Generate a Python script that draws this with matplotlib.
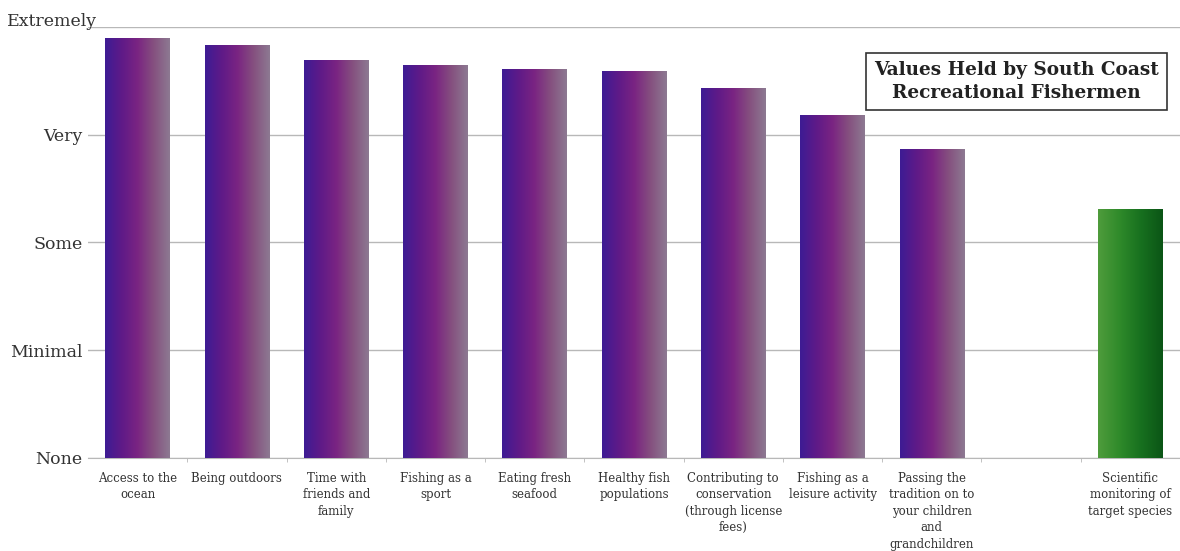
import numpy as np
import matplotlib
matplotlib.use("Agg")
import matplotlib.pyplot as plt
from matplotlib.colors import LinearSegmentedColormap
from matplotlib.transforms import ScaledTranslation

# ---------- data ----------
categories = [
    "Access to the\nocean",
    "Being outdoors",
    "Time with\nfriends and\nfamily",
    "Fishing as a\nsport",
    "Eating fresh\nseafood",
    "Healthy fish\npopulations",
    "Contributing to\nconservation\n(through license\nfees)",
    "Fishing as a\nleisure activity",
    "Passing the\ntradition on to\nyour children\nand\ngrandchildren",
    "",
    "Scientific\nmonitoring of\ntarget species",
]
values = [3.90, 3.83, 3.69, 3.65, 3.61, 3.59, 3.43, 3.18, 2.87, 0, 2.31]
highlight = [False] * 9 + [False, True]
level_labels = ["None", "Minimal", "Some", "Very", "Extremely"]
title = "Values Held by South Coast\nRecreational Fishermen"

# ---------- style ----------
purple_cmap = LinearSegmentedColormap.from_list(
    "purple", ["#3d1c94", "#5e1a88", "#7a2482", "#85507f", "#8d7a92"])
green_cmap = LinearSegmentedColormap.from_list(
    "green", ["#4f9c3c", "#2f8a2a", "#17701f", "#0b5516"])

plt.rcParams["font.family"] = ["DejaVu Serif"]

fig = plt.figure(figsize=(11.8, 5.51), dpi=100)
ax = fig.add_axes([0.0746, 0.169, 0.9254, 0.782])

x = np.arange(len(categories))
bars = ax.bar(x, values, width=0.65, color="none", zorder=3)

grad = np.linspace(0, 1, 256).reshape(1, -1)
for bar, hl, v in zip(bars, highlight, values):
    if v <= 0:
        continue
    x0 = bar.get_x()
    w = bar.get_width()
    h = bar.get_height()
    im = ax.imshow(grad, cmap=green_cmap if hl else purple_cmap, aspect="auto",
                   extent=(x0, x0 + w, 0, h), zorder=3, interpolation="bicubic")
    im.set_clip_path(bar)

ax.set_xlim(-0.5, 10.42)
ax.set_ylim(0, 4)

ax.set_yticks(range(len(level_labels)))
ax.set_yticklabels(level_labels, fontsize=12.5, color="#333333")
ax.grid(axis="y", color="#b8b8b8", linewidth=1.0, zorder=0)
ax.tick_params(axis="y", length=0, pad=4)
# "Extremely" sits a little higher and further right in the original
top_lbl = ax.get_yticklabels()[-1]
top_lbl.set_transform(top_lbl.get_transform()
                      + ScaledTranslation(0.15, 0.07, fig.dpi_scale_trans))

ax.set_xticks(x)
ax.set_xticklabels(categories, fontsize=8.5, color="#333333", linespacing=1.35,
                   va="top")
ax.tick_params(axis="x", length=0, pad=10)
ax.set_xticks(np.arange(len(categories)) + 0.5, minor=True)
ax.tick_params(axis="x", which="minor", length=3, color="#b8b8b8", direction="out")

for s in ["top", "right", "left"]:
    ax.spines[s].set_visible(False)
ax.spines["bottom"].set_color("#b8b8b8")
ax.spines["bottom"].set_zorder(0)

fig.text(0.741, 0.852, title, fontsize=13.3, fontweight="bold", color="#222222",
         ha="left", va="center", linespacing=1.3, multialignment="center",
         bbox=dict(boxstyle="square,pad=0.45", facecolor="white",
                   edgecolor="#333333", linewidth=1.2))

fig.savefig("out.png", dpi=100, facecolor="white")
